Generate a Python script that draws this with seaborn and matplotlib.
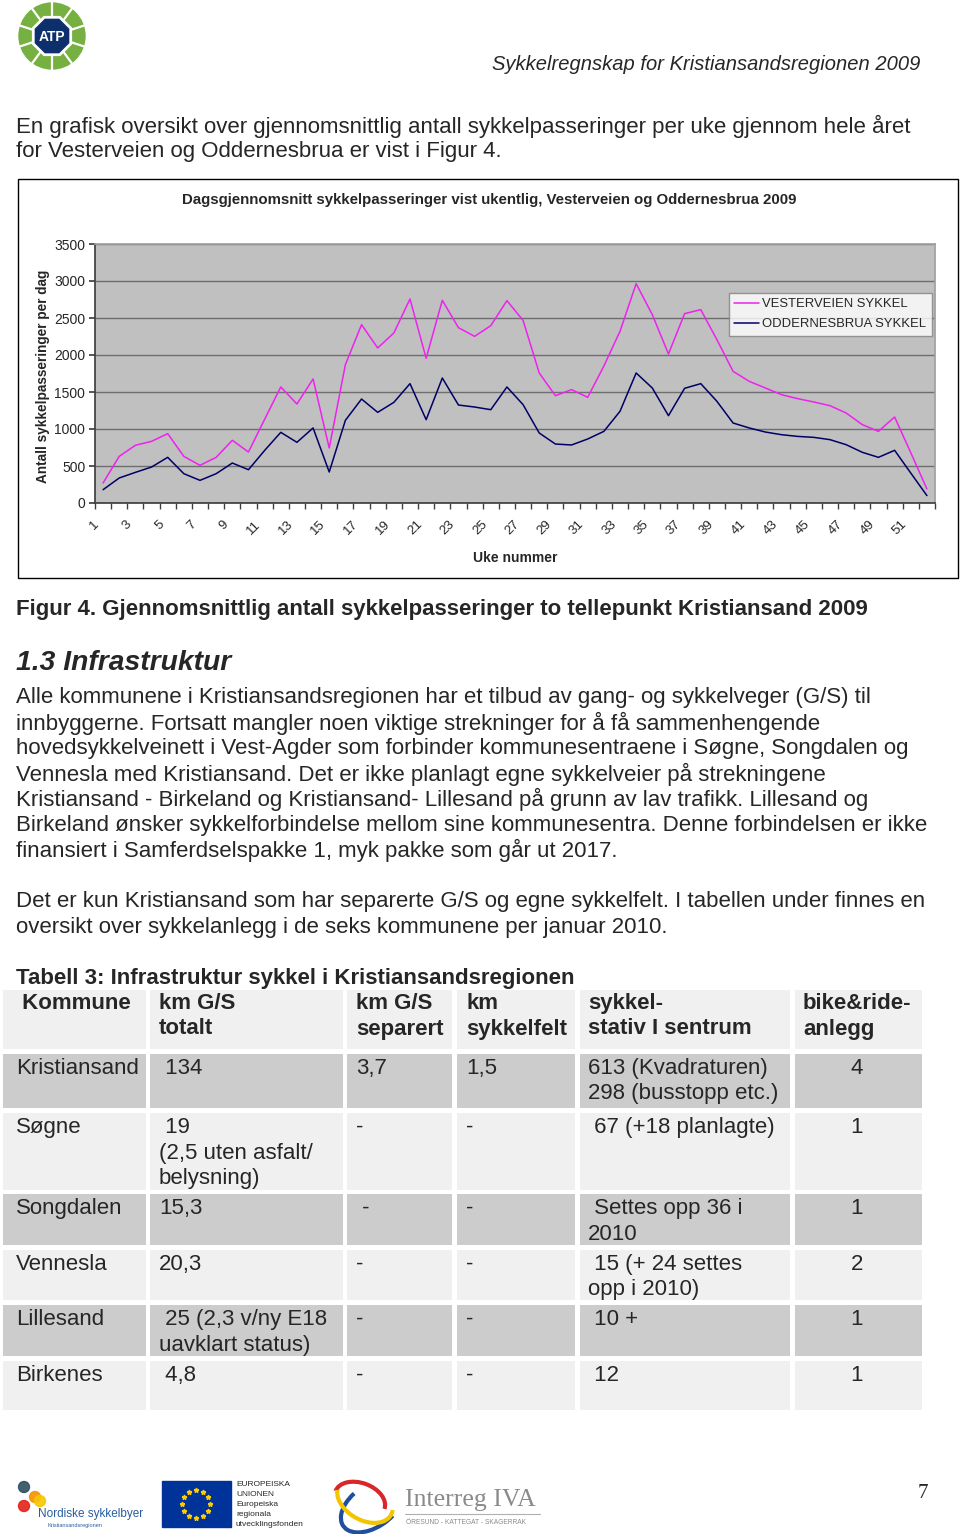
import numpy as np
import pandas as pd
import matplotlib
matplotlib.use("Agg")
import matplotlib.pyplot as plt
import matplotlib.patches as mpatches
from matplotlib.transforms import ScaledTranslation
import seaborn as sns

# chart data
weeks = list(range(1, 53))
vesterveien = [270, 630, 780, 833, 937, 630, 509, 617, 847, 689,
               1130, 1568, 1338, 1676, 743, 1869, 2410, 2095, 2297, 2757,
               1955, 2739, 2369, 2252, 2396, 2734, 2468, 1757, 1450, 1532,
               1428, 1850, 2320, 2964, 2545, 2014, 2559, 2613, 2207, 1779,
               1644, 1554, 1464, 1410, 1365, 1315, 1216, 1059, 968, 1162,
               680, 190]
oddernesbrua = [180, 338, 414, 486, 617, 396, 306, 396, 540, 450,
                710, 955, 820, 1014, 419, 1117, 1405, 1225, 1360, 1613,
                1126, 1689, 1324, 1297, 1261, 1568, 1329, 946, 797, 784,
                865, 968, 1239, 1757, 1554, 1180, 1550, 1613, 1374, 1081,
                1014, 959, 923, 900, 887, 856, 788, 685, 617, 712,
                405, 100]
series_names = ["VESTERVEIEN SYKKEL", "ODDERNESBRUA SYKKEL"]
series_colors = ["#ee22ee", "#000066"]

# page text
header = "Sykkelregnskap for Kristiansandsregionen 2009"
intro = ["En grafisk oversikt over gjennomsnittlig antall sykkelpasseringer per uke gjennom hele året",
         "for Vesterveien og Oddernesbrua er vist i Figur 4."]
chart_title = "Dagsgjennomsnitt sykkelpasseringer vist ukentlig, Vesterveien og Oddernesbrua 2009"
caption = "Figur 4. Gjennomsnittlig antall sykkelpasseringer to tellepunkt Kristiansand 2009"
heading = "1.3 Infrastruktur"
para1 = ["Alle kommunene i Kristiansandsregionen har et tilbud av gang- og sykkelveger (G/S) til",
         "innbyggerne. Fortsatt mangler noen viktige strekninger for å få sammenhengende",
         "hovedsykkelveinett i Vest-Agder som forbinder kommunesentraene i Søgne, Songdalen og",
         "Vennesla med Kristiansand. Det er ikke planlagt egne sykkelveier på strekningene",
         "Kristiansand - Birkeland og Kristiansand- Lillesand på grunn av lav trafikk. Lillesand og",
         "Birkeland ønsker sykkelforbindelse mellom sine kommunesentra. Denne forbindelsen er ikke",
         "finansiert i Samferdselspakke 1, myk pakke som går ut 2017."]
para2 = ["Det er kun Kristiansand som har separerte G/S og egne sykkelfelt. I tabellen under finnes en",
         "oversikt over sykkelanlegg i de seks kommunene per januar 2010."]
table_title = "Tabell 3: Infrastruktur sykkel i Kristiansandsregionen"

# table data
table_header = [" Kommune", "km G/S\ntotalt", "km G/S\nseparert", "km\nsykkelfelt",
                "sykkel-\nstativ I sentrum", "bike&ride-\nanlegg"]
kommune = ["Kristiansand", "Søgne", "Songdalen", "Vennesla", "Lillesand", "Birkenes"]
km_totalt = [" 134", " 19\n(2,5 uten asfalt/\nbelysning)", "15,3", "20,3",
             " 25 (2,3 v/ny E18\nuavklart status)", " 4,8"]
km_separert = ["3,7", "-", " -", "-", "-", "-"]
km_sykkelfelt = ["1,5", "-", "-", "-", "-", "-"]
stativ = ["613 (Kvadraturen)\n298 (busstopp etc.)", " 67 (+18 planlagte)", " Settes opp 36 i\n2010",
          " 15 (+ 24 settes\nopp i 2010)", " 10 +", " 12"]
bike_ride = ["4", "1", "1", "2", "1", "1"]

sns.set_theme(style="white")
plt.rcParams["font.family"] = ["Liberation Sans", "DejaVu Sans"]

fig = plt.figure(figsize=(9.6, 15.34), dpi=100)
page = fig.add_axes([0, 0, 1, 1])
page.set_xlim(0, 960)
page.set_ylim(1534, 0)
page.axis("off")

LH = 25.5  # line height in px
FS = 16
DY = 1.5   # small downward nudge for body text


def lines(x, y, rows, **kw):
    for i, s in enumerate(rows):
        page.text(x, y + DY + i * LH, s, va="center", **kw)


# ATP logo
page.add_patch(mpatches.Circle((52, 36), 33, color="#76b041", zorder=1))
for a in np.arange(0, 360, 36) + 18:
    r = np.deg2rad(a)
    page.plot([52, 52 + 34 * np.cos(r)], [36, 36 + 34 * np.sin(r)], color="white", lw=1.6, zorder=2)
page.add_patch(mpatches.RegularPolygon((52, 36), 8, radius=21, orientation=np.pi / 8, color="white", zorder=3))
page.add_patch(mpatches.RegularPolygon((52, 36), 8, radius=18, orientation=np.pi / 8, color="#0d2f6b", zorder=4))
page.text(52, 37, "ATP", color="white", fontsize=10, fontweight="bold", ha="center", va="center", zorder=5)

page.text(920, 64, header, fontsize=14.5, style="italic", ha="right", va="center")
lines(16, 125, intro, fontsize=FS)

# chart frame
page.add_patch(mpatches.Rectangle((18, 179), 940, 399, facecolor="white", edgecolor="black", lw=1))
page.text(489, 200, chart_title, fontsize=10.8, fontweight="bold", ha="center", va="center")

df = pd.DataFrame({
    "Uke": weeks * 2,
    "Antall": vesterveien + oddernesbrua,
    "Serie": [series_names[0]] * len(weeks) + [series_names[1]] * len(weeks),
})

ax = fig.add_axes([95 / 960, 1 - 503 / 1534, 840 / 960, 259 / 1534])
sns.lineplot(data=df, x="Uke", y="Antall", hue="Serie", hue_order=series_names,
             palette=dict(zip(series_names, series_colors)), lw=1.1, ax=ax, zorder=3)
ax.set_facecolor("#c0c0c0")
ax.set_xlim(0.5, 52.5)
ax.set_ylim(0, 3500)
ax.set_yticks(range(0, 3501, 500))
ax.yaxis.grid(True, color="#6e6e6e", lw=1)
ax.set_axisbelow(True)
ax.set_xticks(weeks[::2])
ax.set_xticklabels([str(w) for w in weeks[::2]], rotation=45, ha="right", rotation_mode="anchor")
ax.set_xticks(np.arange(0.5, 53, 1), minor=True)
ax.tick_params(axis="x", which="major", length=0, pad=11, labelsize=9.5)
ax.tick_params(axis="x", which="minor", length=4, direction="out", color="#404040", bottom=True)
ax.tick_params(axis="y", length=4, direction="out", color="#404040", left=True, labelsize=10, pad=3)
shift = ScaledTranslation(-7 / 72, 0, fig.dpi_scale_trans)
for lab in ax.get_xticklabels():
    lab.set_transform(lab.get_transform() + shift)
for side in ["left", "bottom"]:
    ax.spines[side].set_color("#404040")
for side in ["top", "right"]:
    ax.spines[side].set_color("#a0a0a0")
ax.set_xlabel("Uke nummer", fontsize=10, fontweight="bold")
ax.xaxis.set_label_coords((515 - 95) / 840, (503 - 551) / 259)
ax.set_ylabel("Antall sykkelpasseringer per dag", fontsize=9.8, fontweight="bold")
ax.yaxis.set_label_coords((50 - 95) / 840, 0.49)
leg = ax.legend(title=None, loc="upper right", bbox_to_anchor=(0.996, 0.811), borderaxespad=0,
                fontsize=9.4, frameon=True, fancybox=False, handlelength=1.85, labelspacing=0.6,
                handletextpad=0.3, borderpad=0.4)
leg.get_frame().set_edgecolor("#808080")
leg.get_frame().set_linewidth(1)
for h in leg.get_lines():
    h.set_linewidth(1.1)

page.text(16, 608 + DY, caption, fontsize=FS, fontweight="bold", va="center")
page.text(16, 661 + DY, heading, fontsize=20.3, fontweight="bold", style="italic", va="center")
lines(16, 696, para1, fontsize=FS)
lines(16, 900, para2, fontsize=FS)
page.text(16, 977 + DY, table_title, fontsize=FS, fontweight="bold", va="center")

# table
col_x = [(3, 146), (150, 343), (347, 452), (457, 575), (580, 790), (795, 922)]
row_y = [(990, 1049), (1054, 1108), (1113, 1190), (1194, 1245), (1250, 1300), (1305, 1356), (1361, 1410)]
light, dark = "#f0f0f0", "#cccccc"
cols = [kommune, km_totalt, km_separert, km_sykkelfelt, stativ, bike_ride]
text_x = [16, 159, 356, 466, 588, 857]

for r, (y0, y1) in enumerate(row_y):
    fill = light if r % 2 == 0 else dark
    for c, (x0, x1) in enumerate(col_x):
        page.add_patch(mpatches.Rectangle((x0, y0), x1 - x0, y1 - y0, color=fill, lw=0))
    if r == 0:
        for c, s in enumerate(table_header):
            x = text_x[c] if c != 5 else 803
            lines(x, y0 + 12, s.split("\n"), fontsize=FS, fontweight="bold")
    else:
        for c in range(6):
            s = cols[c][r - 1]
            if c == 5:
                lines(text_x[c], y0 + 13, s.split("\n"), fontsize=FS, ha="center")
            else:
                lines(text_x[c], y0 + 13, s.split("\n"), fontsize=FS)

# footer logos
for (cx, cy, col) in [(24, 1487, "#2f4f5f"), (35, 1497, "#f29400"), (24, 1506, "#e2231a"), (40, 1501, "#f7c600")]:
    page.add_patch(mpatches.Circle((cx, cy), 5.5, color=col, alpha=0.9))
page.text(38, 1514, "Nordiske sykkelbyer", fontsize=8.5, color="#2a5d9f", va="center")
page.text(48, 1525, "Kristiansandsregionen", fontsize=4, color="#2a5d9f", va="center")

page.add_patch(mpatches.Rectangle((162, 1481), 69, 46, color="#003399"))
for a in np.arange(0, 360, 30):
    r = np.deg2rad(a)
    page.plot(196 + 14 * np.cos(r), 1504 + 14 * np.sin(r), marker="*", color="#ffcc00", ms=3.5)
for i, s in enumerate(["EUROPEISKA", "UNIONEN", "Europeiska", "regionala", "utvecklingsfonden"]):
    page.text(236, 1485 + i * 9.8, s, fontsize=6, va="center")

page.add_patch(mpatches.Arc((372, 1506), 70, 42, angle=-35, theta1=60, theta2=250, color="#1f4e9c", lw=3))
page.add_patch(mpatches.Arc((360, 1500), 52, 34, angle=20, theta1=180, theta2=360, color="#d9262b", lw=3))
page.add_patch(mpatches.Arc((365, 1500), 60, 40, angle=30, theta1=-10, theta2=170, color="#f2c500", lw=3))
page.text(405, 1500, "Interreg IVA", fontsize=18.5, family="Liberation Serif", color="#8a8a8a", va="center")
page.plot([405, 540], [1514, 1514], color="#b0b0b0", lw=0.8)
page.text(406, 1522, "ÖRESUND - KATTEGAT - SKAGERRAK", fontsize=4.8, color="#8a8a8a", va="center")

page.text(923, 1494, "7", fontsize=15, family="Liberation Serif", ha="center", va="center")

fig.savefig("out.png", dpi=100)
